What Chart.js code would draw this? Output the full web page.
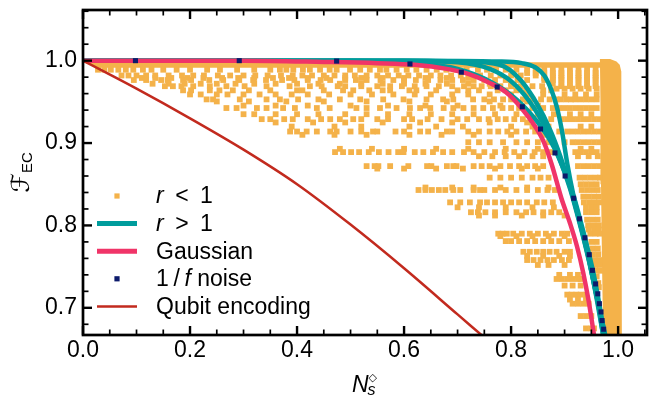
<!DOCTYPE html>
<html>
<head>
<meta charset="utf-8">
<script src="https://cdn.jsdelivr.net/npm/chart.js@4/dist/chart.umd.min.js"></script>
<style>
  html, body { margin: 0; padding: 0; background: #fff; }
  #wrap { width: 653px; height: 396px; }
</style>
</head>
<body>
<div id="wrap"><canvas id="fidelityChart"></canvas></div>
<script>
// ---- data ----
var xMajorTicks = [0.0, 0.2, 0.4, 0.6, 0.8, 1.0];
var xMinorTicks = [0.05, 0.1, 0.15, 0.25, 0.3, 0.35, 0.45, 0.5, 0.55, 0.65, 0.7, 0.75, 0.85, 0.9, 0.95, 1.05];
var yMajorTicks = [0.7, 0.8, 0.9, 1.0];
var yMinorTicks = [0.68, 0.72, 0.74, 0.76, 0.78, 0.82, 0.84, 0.86, 0.88, 0.92, 0.94, 0.96, 0.98, 1.02, 1.04, 1.06];

// r < 1 : scattered squares, one list of x values per y level
var rLessLevels = [0.989, 0.985, 0.982, 0.979, 0.9765, 0.972, 0.969, 0.966, 0.964, 0.959, 0.953, 0.9505, 0.9455,
  0.9425, 0.935, 0.929, 0.925, 0.92, 0.914, 0.91, 0.901, 0.893, 0.889, 0.884, 0.872, 0.869, 0.858, 0.85, 0.846,
  0.843, 0.835, 0.828, 0.822, 0.816, 0.812, 0.807, 0.80, 0.795, 0.79, 0.787, 0.781, 0.78, 0.772, 0.768, 0.765,
  0.763, 0.758, 0.752, 0.745, 0.74, 0.738, 0.735, 0.73, 0.727, 0.725, 0.716, 0.71, 0.705, 0.69, 0.675];
var rLessRows = [
  [0.028, 0.04, 0.052, 0.066, 0.08, 0.094, 0.112, 0.128, 0.15, 0.175, 0.2, 0.232, 0.256, 0.288, 0.32, 0.35, 0.368, 0.38, 0.393, 0.411, 0.424, 0.443, 0.461, 0.474, 0.499, 0.518, 0.536, 0.555, 0.567, 0.586, 0.605, 0.623, 0.642, 0.661, 0.679, 0.698, 0.717, 0.738, 0.755, 0.772, 0.79, 0.81, 0.83, 0.846, 0.862, 0.878, 0.894, 0.91, 0.926, 0.942, 0.958],
  [0.83, 0.846, 0.862, 0.878, 0.894, 0.91, 0.926, 0.942, 0.958],
  [0.072, 0.085, 0.1, 0.118, 0.135, 0.16, 0.185, 0.206, 0.226, 0.252, 0.275, 0.3, 0.322, 0.345, 0.37, 0.392, 0.41, 0.428, 0.45, 0.47, 0.49, 0.508, 0.53, 0.55, 0.57, 0.59, 0.608, 0.628, 0.65, 0.668, 0.688, 0.706, 0.724, 0.742, 0.762, 0.78, 0.8, 0.818, 0.846, 0.862, 0.878, 0.894, 0.91, 0.926, 0.942, 0.958],
  [0.11, 0.135, 0.165, 0.195, 0.225, 0.26, 0.29, 0.32, 0.355, 0.385, 0.42, 0.455, 0.49, 0.52, 0.56, 0.6, 0.64, 0.68, 0.72, 0.862, 0.878, 0.894, 0.91, 0.926, 0.942, 0.958],
  [0.095, 0.118, 0.146, 0.158, 0.187, 0.202, 0.236, 0.262, 0.292, 0.318, 0.342, 0.372, 0.395, 0.42, 0.444, 0.462, 0.49, 0.51, 0.53, 0.556, 0.58, 0.6, 0.622, 0.645, 0.668, 0.69, 0.71, 0.73, 0.75, 0.77, 0.79, 0.812, 0.83, 0.862, 0.878, 0.894, 0.91, 0.926, 0.942, 0.958],
  [0.13, 0.16, 0.19, 0.22, 0.25, 0.285, 0.32, 0.36, 0.4, 0.44, 0.48, 0.52, 0.56, 0.6, 0.64, 0.68, 0.72, 0.76, 0.8, 0.878, 0.894, 0.91, 0.926, 0.942, 0.958],
  [0.153, 0.168, 0.184, 0.206, 0.237, 0.268, 0.302, 0.343, 0.386, 0.424, 0.446, 0.476, 0.49, 0.52, 0.55, 0.574, 0.596, 0.62, 0.642, 0.665, 0.69, 0.712, 0.73, 0.745, 0.762, 0.78, 0.8, 0.818, 0.84, 0.858, 0.894, 0.91, 0.926, 0.942, 0.958],
  [0.885, 0.9, 0.915, 0.93, 0.945, 0.96],
  [0.187, 0.202, 0.237, 0.255, 0.28, 0.31, 0.35, 0.4, 0.41, 0.45, 0.486, 0.505, 0.535, 0.56, 0.574, 0.61, 0.623, 0.66, 0.7, 0.72, 0.74, 0.775, 0.79, 0.81, 0.828, 0.86, 0.875],
  [0.2, 0.22, 0.25, 0.27, 0.3, 0.33, 0.36, 0.39, 0.42, 0.46, 0.5, 0.54, 0.58, 0.62, 0.65, 0.69, 0.72, 0.76, 0.8, 0.83, 0.86, 0.9, 0.92, 0.94, 0.96],
  [0.231, 0.243, 0.293, 0.343, 0.368, 0.402, 0.44, 0.48, 0.518, 0.561, 0.599, 0.642, 0.673, 0.692, 0.729, 0.75, 0.768, 0.785, 0.8, 0.822, 0.84, 0.856, 0.872, 0.885, 0.893, 0.903, 0.912, 0.92, 0.93, 0.94, 0.95, 0.96],
  [0.25, 0.31, 0.38, 0.45, 0.53, 0.61, 0.68, 0.76, 0.83],
  [0.3, 0.36, 0.42, 0.5, 0.57, 0.64, 0.7, 0.78, 0.85],
  [0.268, 0.287, 0.325, 0.343, 0.374, 0.396, 0.437, 0.461, 0.511, 0.53, 0.555, 0.586, 0.611, 0.63, 0.649, 0.674, 0.692, 0.711, 0.73, 0.748, 0.766, 0.784, 0.8, 0.815, 0.84, 0.86, 0.878, 0.89, 0.9, 0.91, 0.92, 0.93, 0.94, 0.95, 0.96],
  [0.3, 0.32, 0.36, 0.4, 0.44, 0.49, 0.53, 0.57, 0.61, 0.65, 0.69, 0.73, 0.77, 0.81, 0.85, 0.88, 0.91, 0.93, 0.95],
  [0.334, 0.35, 0.376, 0.392, 0.42, 0.445, 0.462, 0.48, 0.505, 0.52, 0.55, 0.57, 0.6, 0.615, 0.644, 0.67, 0.7, 0.718, 0.74, 0.758, 0.775, 0.79, 0.806, 0.822, 0.838, 0.855, 0.875, 0.895, 0.905, 0.915, 0.925, 0.935, 0.945, 0.955, 0.965],
  [0.36, 0.43, 0.49, 0.56, 0.63, 0.69, 0.76, 0.83],
  [0.39, 0.47, 0.52, 0.61, 0.66, 0.71, 0.8, 0.84, 0.87, 0.93, 0.95],
  [0.387, 0.4, 0.418, 0.437, 0.462, 0.474, 0.5, 0.52, 0.542, 0.55, 0.584, 0.6, 0.63, 0.645, 0.68, 0.69, 0.72, 0.74, 0.76, 0.776, 0.793, 0.81, 0.828, 0.845, 0.87, 0.89, 0.905, 0.915, 0.925, 0.935, 0.945, 0.955, 0.965],
  [0.41, 0.47, 0.53, 0.61, 0.67, 0.73, 0.8, 0.86],
  [0.72, 0.74, 0.76, 0.785, 0.81, 0.83, 0.85, 0.87, 0.9, 0.915, 0.925, 0.935, 0.945, 0.955, 0.965],
  [0.48, 0.54, 0.6, 0.66, 0.72, 0.79, 0.85, 0.93, 0.95],
  [0.471, 0.486, 0.501, 0.516, 0.534, 0.553, 0.571, 0.589, 0.599, 0.62, 0.636, 0.654, 0.673, 0.69, 0.712, 0.73, 0.75, 0.77, 0.788, 0.806, 0.825, 0.844, 0.86, 0.875, 0.92, 0.93, 0.94, 0.95, 0.96],
  [0.74, 0.765, 0.79, 0.815, 0.84, 0.86, 0.925, 0.945, 0.962],
  [0.53, 0.545, 0.552, 0.574, 0.608, 0.643, 0.651, 0.68, 0.692, 0.698, 0.73, 0.745, 0.76, 0.78, 0.798, 0.815, 0.83, 0.845, 0.86, 0.925, 0.935, 0.945, 0.955, 0.965],
  [0.55, 0.6, 0.66, 0.71, 0.77, 0.82, 0.85],
  [0.76, 0.78, 0.8, 0.82, 0.84, 0.855, 0.87, 0.928, 0.938, 0.948, 0.958, 0.966],
  [0.93, 0.94, 0.95, 0.96],
  [0.64, 0.69, 0.73, 0.78, 0.83, 0.87],
  [0.627, 0.64, 0.652, 0.665, 0.677, 0.692, 0.705, 0.73, 0.742, 0.75, 0.77, 0.79, 0.81, 0.83, 0.85, 0.868, 0.882, 0.932, 0.942, 0.952, 0.962],
  [0.935, 0.945, 0.955, 0.964],
  [0.686, 0.705, 0.723, 0.742, 0.755, 0.77, 0.785, 0.8, 0.815, 0.83, 0.848, 0.862, 0.878, 0.936, 0.946, 0.956, 0.965],
  [0.7, 0.74, 0.79, 0.84, 0.88, 0.94, 0.95, 0.96],
  [0.725, 0.738, 0.752, 0.77, 0.79, 0.81, 0.828, 0.842, 0.86, 0.875, 0.89, 0.94, 0.95, 0.96],
  [0.74, 0.77, 0.82, 0.86, 0.9],
  [0.942, 0.952, 0.962],
  [0.944, 0.954, 0.964],
  [0.945, 0.955, 0.964],
  [0.776, 0.784, 0.792, 0.804, 0.82, 0.835, 0.85, 0.865, 0.88, 0.895, 0.905, 0.948, 0.958, 0.966],
  [0.78, 0.81, 0.84, 0.87, 0.9],
  [0.79, 0.8, 0.815, 0.83, 0.845, 0.86, 0.875, 0.89, 0.908],
  [0.95, 0.96],
  [0.952, 0.962],
  [0.823, 0.835, 0.848, 0.86, 0.872, 0.885, 0.9, 0.91],
  [0.953, 0.963],
  [0.83, 0.86, 0.89, 0.91],
  [0.83, 0.842, 0.855, 0.868, 0.88, 0.895, 0.908, 0.956, 0.965],
  [0.85, 0.87, 0.9, 0.957, 0.966],
  [0.96, 0.967],
  [0.89, 0.91, 0.925],
  [0.96],
  [0.885, 0.895, 0.905, 0.915, 0.925, 0.93],
  [0.963],
  [0.9, 0.915, 0.93],
  [0.964],
  [0.905, 0.913, 0.922, 0.93, 0.94],
  [0.91, 0.925, 0.94],
  [0.915, 0.925, 0.935, 0.945],
  [0.93, 0.94, 0.95],
  [0.94, 0.95, 0.955]
];
// r < 1 : solid column at the right edge and the strip just under F = 1
var rLessBandX = [0.972, 0.970, 0.968, 0.967, 0.966, 0.985, 0.997, 1.003, 1.006, 1.007, 1.007];
var rLessBandY = [0.667, 0.75, 0.85, 0.95, 1.002, 1.002, 0.999, 0.995, 0.987, 0.95, 0.667];
var rLessStripX = [0.0, 0.97, 0.97, 0.03, 0.0];
var rLessStripY = [0.998, 0.998, 0.9915, 0.9915, 0.998];

// r > 1 : four curves
var rMoreX = [
  [0, 0.6, 0.78, 0.82, 0.845, 0.862, 0.875, 0.885, 0.895, 0.905, 0.917, 0.93, 0.945, 0.958, 0.968, 0.976],
  [0, 0.6, 0.711, 0.779, 0.817, 0.848, 0.873, 0.892, 0.91, 0.925, 0.94, 0.953, 0.963, 0.972],
  [0, 0.6, 0.7, 0.76, 0.8, 0.835, 0.865, 0.89, 0.91, 0.925, 0.94, 0.953, 0.964, 0.972],
  [0, 0.5, 0.62, 0.7, 0.76, 0.81, 0.85, 0.88, 0.9, 0.918, 0.93, 0.942, 0.953, 0.962, 0.97, 0.975]
];
var rMoreY = [
  [1, 1, 0.999, 0.997, 0.992, 0.982, 0.965, 0.945, 0.915, 0.875, 0.835, 0.8, 0.76, 0.72, 0.69, 0.667],
  [1, 1, 0.999, 0.995, 0.977, 0.948, 0.916, 0.884, 0.847, 0.812, 0.775, 0.735, 0.7, 0.667],
  [1, 1, 0.998, 0.99, 0.975, 0.95, 0.918, 0.882, 0.845, 0.81, 0.772, 0.735, 0.7, 0.667],
  [1, 1, 0.997, 0.99, 0.975, 0.953, 0.925, 0.895, 0.865, 0.833, 0.805, 0.775, 0.745, 0.715, 0.685, 0.667]
];

var gaussX = [0, 0.3, 0.45, 0.55, 0.62, 0.68, 0.72, 0.76, 0.79, 0.82, 0.845, 0.862, 0.876, 0.894, 0.91, 0.923, 0.935, 0.945, 0.955];
var gaussY = [1, 1, 0.9985, 0.997, 0.995, 0.99, 0.984, 0.973, 0.962, 0.942, 0.92, 0.9, 0.874, 0.833, 0.803, 0.775, 0.742, 0.708, 0.667];

var noiseX = [0.098, 0.292, 0.474, 0.611, 0.707, 0.774, 0.821, 0.855, 0.882, 0.901, 0.917, 0.928, 0.938, 0.946, 0.952, 0.958, 0.962, 0.965, 0.968, 0.970, 0.973];
var noiseY = [1.0, 1.0, 0.9995, 0.996, 0.986, 0.968, 0.944, 0.917, 0.888, 0.86, 0.833, 0.808, 0.785, 0.7645, 0.7455, 0.729, 0.717, 0.705, 0.695, 0.6845, 0.674];

var qubitX = [0, 0.1, 0.2, 0.3, 0.4, 0.5, 0.6, 0.7, 0.75];
var qubitY = [1, 0.966, 0.93, 0.892, 0.85, 0.801, 0.748, 0.692, 0.664];

var colors = {
    rLess: '#F4B24A',
    rMore: '#009C9C',
    gauss: '#F03468',
    noise: '#0C1A6B',
    qubit: '#C22A1E'
};
var fontFamily = "'Liberation Sans', Arial, Helvetica, sans-serif";

function pairs(xs, ys) {
    return xs.map(function(x, i) { return {x: x, y: ys[i]}; });
}

var rLessPoints = [];
rLessLevels.forEach(function(y, i) {
    rLessRows[i].forEach(function(x) { rLessPoints.push({x: x, y: y}); });
});

// ---- inward ticks on all four sides + frame ----
var axisDecor = {
    id: 'axisDecor',
    afterDatasetsDraw: function(chart) {
        var ctx = chart.ctx, a = chart.chartArea, xs = chart.scales.x, ys = chart.scales.y;
        ctx.save();
        ctx.strokeStyle = '#000';
        function seg(x1, y1, x2, y2) { ctx.beginPath(); ctx.moveTo(x1, y1); ctx.lineTo(x2, y2); ctx.stroke(); }
        function xTicks(list, len) {
            list.forEach(function(v) {
                var p = xs.getPixelForValue(v);
                seg(p, a.bottom, p, a.bottom - len);
                seg(p, a.top, p, a.top + len);
            });
        }
        function yTicks(list, len) {
            list.forEach(function(v) {
                var p = ys.getPixelForValue(v);
                seg(a.left, p, a.left + len, p);
                seg(a.right, p, a.right - len, p);
            });
        }
        ctx.lineWidth = 1.7;
        xTicks(xMinorTicks, 5.5);
        yTicks(yMinorTicks, 5.5);
        ctx.lineWidth = 2.4;
        xTicks(xMajorTicks, 9);
        yTicks(yMajorTicks, 9);
        ctx.lineWidth = 2.7;
        ctx.strokeRect(a.left, a.top, a.right - a.left, a.bottom - a.top);
        ctx.restore();
    }
};

// ---- legend and axis titles ----
var legendEntries = [
    {runs: [['r', true], ['\u2002<\u20021', false]], kind: 'square', color: colors.rLess},
    {runs: [['r', true], ['\u2002>\u20021', false]], kind: 'line', color: colors.rMore, width: 5},
    {runs: [['Gaussian', false]], kind: 'line', color: colors.gauss, width: 5},
    {runs: [['1\u2009/\u2009', false], ['f', true], [' noise', false]], kind: 'square', color: colors.noise},
    {runs: [['Qubit encoding', false]], kind: 'line', color: colors.qubit, width: 2.5}
];

function drawRuns(ctx, runs, x, y, size) {
    runs.forEach(function(r) {
        ctx.font = (r[1] ? 'italic ' : '') + size + 'px ' + fontFamily;
        ctx.fillText(r[0], x, y);
        x += ctx.measureText(r[0]).width;
    });
}

var annotations = {
    id: 'annotations',
    afterDraw: function(chart) {
        var ctx = chart.ctx, a = chart.chartArea;
        ctx.save();
        ctx.fillStyle = '#000';
        ctx.textBaseline = 'middle';
        ctx.textAlign = 'left';
        // legend
        var markX = a.left + 34, textX = a.left + 73, rowY = a.top + 186, step = 27.6;
        legendEntries.forEach(function(e, i) {
            var y = rowY + i * step;
            if (e.kind === 'square') {
                ctx.fillStyle = e.color;
                ctx.fillRect(markX - 2.6, y - 2.6, 5.2, 5.2);
            } else {
                ctx.strokeStyle = e.color;
                ctx.lineWidth = e.width;
                ctx.beginPath();
                ctx.moveTo(markX - 20, y);
                ctx.lineTo(markX + 20, y);
                ctx.stroke();
            }
            ctx.fillStyle = '#000';
            drawRuns(ctx, e.runs, textX, y + 1, 23);
        });

        // x title  N_s^diamond
        ctx.textBaseline = 'alphabetic';
        var cx = (a.left + a.right) / 2 - 13;
        ctx.font = 'italic 23px ' + fontFamily;
        ctx.fillText('N', cx, 392);
        var nw = ctx.measureText('N').width;
        ctx.font = 'italic 16px ' + fontFamily;
        ctx.fillText('s', cx + nw - 1, 395);
        ctx.font = '11px "DejaVu Sans", sans-serif';
        ctx.fillText('\u25C7', cx + nw, 381);

        // y title  F_EC (calligraphic F)
        ctx.translate(29, (a.top + a.bottom) / 2);
        ctx.rotate(-Math.PI / 2);
        ctx.font = 'italic 25px "DejaVu Serif", "DejaVu Sans", serif';
        var fw = ctx.measureText('\u2131').width;
        ctx.font = '15px ' + fontFamily;
        var ew = ctx.measureText('EC').width;
        var start = -(fw + ew) / 2;
        ctx.font = 'italic 25px "DejaVu Serif", "DejaVu Sans", serif';
        ctx.fillText('\u2131', start, 0);
        ctx.font = '15px ' + fontFamily;
        ctx.fillText('EC', start + fw, 3);
        ctx.restore();
    }
};

function curve(xs, ys, color, width, order) {
    return {
        type: 'line',
        data: pairs(xs, ys),
        borderColor: color,
        borderWidth: width,
        pointRadius: 0,
        pointHoverRadius: 0,
        fill: false,
        cubicInterpolationMode: 'monotone',
        order: order
    };
}

var datasets = [
    {type: 'line', data: pairs(rLessBandX, rLessBandY), fill: 'shape', backgroundColor: colors.rLess,
     borderWidth: 0, pointRadius: 0, tension: 0, order: 10},
    {type: 'line', data: pairs(rLessStripX, rLessStripY), fill: 'shape', backgroundColor: colors.rLess,
     borderWidth: 0, pointRadius: 0, tension: 0, order: 10},
    {type: 'scatter', label: 'r < 1', data: rLessPoints, pointStyle: 'rect', pointRadius: 4.1,
     backgroundColor: colors.rLess, borderWidth: 0, order: 9}
];
rMoreX.forEach(function(xs, i) {
    datasets.push(curve(xs, rMoreY[i], colors.rMore, 4.5, 6));
});
datasets.push(curve(gaussX, gaussY, colors.gauss, 4.5, 4));
datasets.push(curve(qubitX, qubitY, colors.qubit, 2.5, 3));
datasets.push({type: 'scatter', label: '1/f noise', data: pairs(noiseX, noiseY), pointStyle: 'rect',
    pointRadius: 3.6, backgroundColor: colors.noise, borderWidth: 0, order: 1});

var ctx = document.getElementById('fidelityChart').getContext('2d');
var fidelityChart = new Chart(ctx, {
    type: 'scatter',
    data: { datasets: datasets },
    options: {
        responsive: true,
        maintainAspectRatio: false,
        animation: false,
        devicePixelRatio: 1,
        layout: { padding: { top: 10, right: 6, left: 0, bottom: 0 } },
        plugins: { legend: { display: false }, tooltip: { enabled: false } },
        scales: {
            x: {
                type: 'linear', min: 0, max: 1.054,
                grid: { display: false, drawTicks: false },
                border: { display: false },
                afterBuildTicks: function(s) { s.ticks = xMajorTicks.map(function(v) { return {value: v}; }); },
                afterFit: function(s) { s.height = 61; s.paddingLeft = 0; s.paddingRight = 0; },
                ticks: {
                    color: '#000', padding: 2, maxRotation: 0, autoSkip: false,
                    font: { family: fontFamily, size: 23 },
                    callback: function(v) { return Number(v).toFixed(1); }
                }
            },
            y: {
                type: 'linear', min: 0.667, max: 1.0615,
                grid: { display: false, drawTicks: false },
                border: { display: false },
                afterBuildTicks: function(s) { s.ticks = yMajorTicks.map(function(v) { return {value: v}; }); },
                afterFit: function(s) { s.width = 83; s.paddingTop = 0; s.paddingBottom = 0; },
                ticks: {
                    color: '#000', padding: 6, autoSkip: false,
                    font: { family: fontFamily, size: 23 },
                    callback: function(v) { return Number(v).toFixed(1); }
                }
            }
        }
    },
    plugins: [axisDecor, annotations]
});
</script>
</body>
</html>
